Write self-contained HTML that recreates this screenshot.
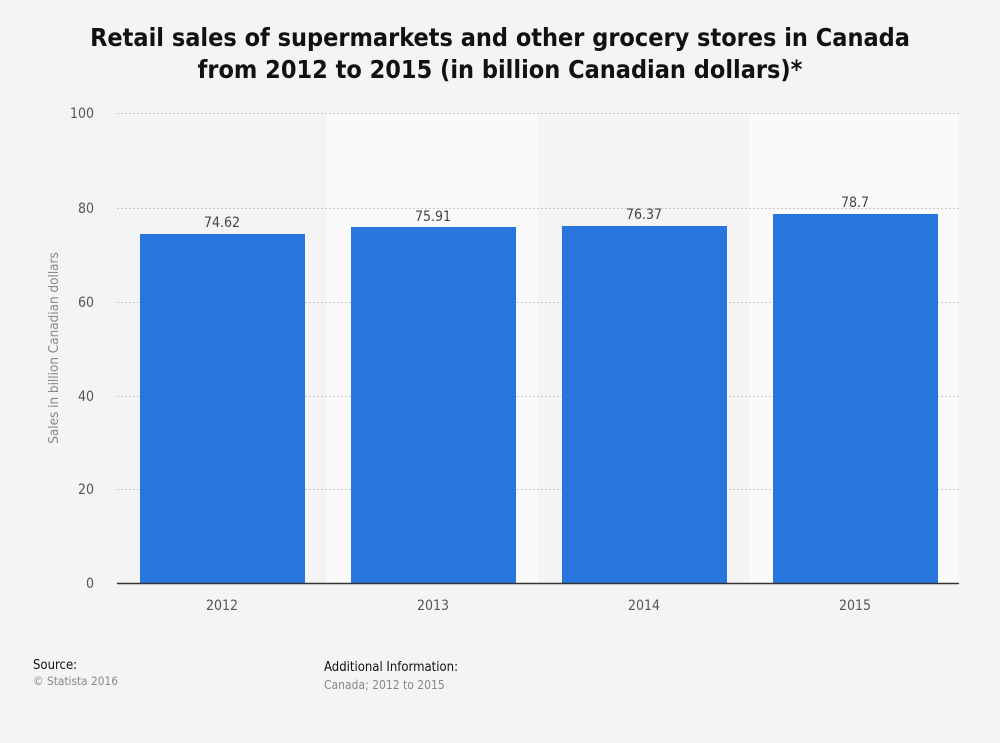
<!DOCTYPE html>
<html><head><meta charset="utf-8"><style>
body{margin:0;background:#f4f4f4;width:1000px;height:743px;overflow:hidden;font-family:"DejaVu Sans Condensed","DejaVu Sans","Liberation Sans",sans-serif;font-stretch:condensed;}
</style></head><body>
<svg width="1000" height="743" xmlns="http://www.w3.org/2000/svg" style="position:absolute;left:0;top:0">
<rect width="1000" height="743" fill="#f4f4f4"/>
<text x="500" y="46" text-anchor="middle" font-size="25" font-weight="bold" fill="#111">Retail sales of supermarkets and other grocery stores in Canada</text>
<text x="500" y="78" text-anchor="middle" font-size="25" font-weight="bold" fill="#111">from 2012 to 2015 (in billion Canadian dollars)*</text>
<rect x="327" y="113" width="211" height="470" fill="#fafafa"/>
<rect x="749" y="113" width="210" height="470" fill="#fafafa"/>
<g stroke="#c8c8c8" stroke-dasharray="2,2" stroke-width="1">
<line x1="117" x2="959" y1="113.5" y2="113.5"/>
<line x1="117" x2="959" y1="208.5" y2="208.5"/>
<line x1="117" x2="959" y1="302.5" y2="302.5"/>
<line x1="117" x2="959" y1="396.5" y2="396.5"/>
<line x1="117" x2="959" y1="489.5" y2="489.5"/>
</g>
<g font-size="14" fill="#555" text-anchor="end">
<text x="94" y="118">100</text><text x="94" y="213">80</text><text x="94" y="307">60</text>
<text x="94" y="401">40</text><text x="94" y="494">20</text><text x="94" y="588">0</text>
</g>
<text transform="translate(58,348) rotate(-90)" text-anchor="middle" font-size="13.4" fill="#888">Sales in billion Canadian dollars</text>
<g fill="#2876dd">
<rect x="140" y="234" width="165" height="349"/>
<rect x="351" y="227" width="165" height="356"/>
<rect x="562" y="226" width="165" height="357"/>
<rect x="773" y="214" width="165" height="369"/>
</g>
<line x1="117" x2="959" y1="583.5" y2="583.5" stroke="#333" stroke-width="1.5"/>
<g font-size="14" fill="#444" text-anchor="middle">
<text x="222" y="227">74.62</text><text x="433" y="221">75.91</text>
<text x="644" y="219">76.37</text><text x="855" y="207">78.7</text>
</g>
<g font-size="14" fill="#555" text-anchor="middle">
<text x="222" y="610">2012</text><text x="433" y="610">2013</text>
<text x="644" y="610">2014</text><text x="855" y="610">2015</text>
</g>
<text x="33" y="669" font-size="13" fill="#111">Source:</text>
<text x="33" y="685" font-size="11.8" fill="#888">© Statista 2016</text>
<text x="324" y="671" font-size="13" fill="#111">Additional Information:</text>
<text x="324" y="689" font-size="12" fill="#888">Canada; 2012 to 2015</text>
</svg>
</body></html>
